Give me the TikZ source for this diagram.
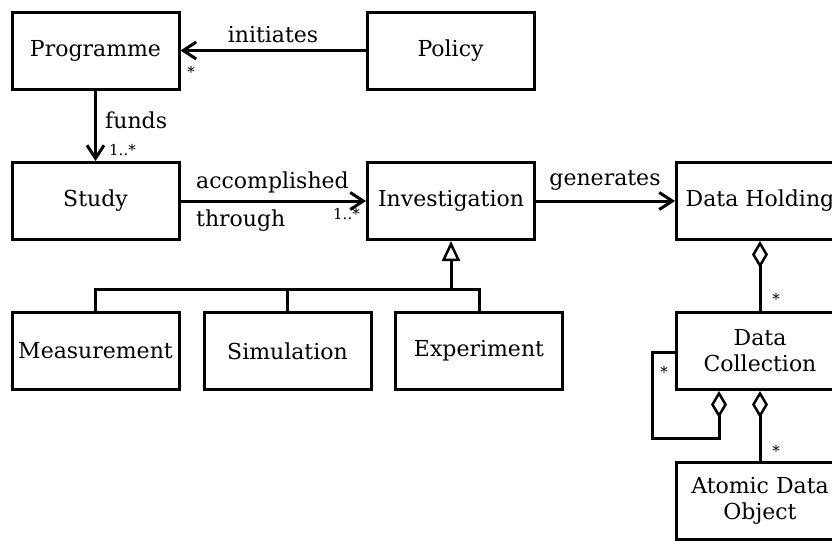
\documentclass[tikz,border=0pt]{standalone}
\usepackage{fontspec}
\setmainfont{DejaVu Serif}
\usetikzlibrary{arrows.meta}
\begin{document}
\begin{tikzpicture}[x=1pt,y=-1pt,
  box/.style={draw, line width=3pt, minimum width=167pt, minimum height=77pt,
    inner sep=0pt, align=center, font=\fontsize{22}{26}\selectfont},
  conn/.style={line width=3pt},
  assoc/.style={conn, -{Straight Barb[length=13pt,width=17pt,line width=3pt]}},
  gen/.style={conn, -{Triangle[open,length=20pt,width=18pt,line width=2.5pt]}},
  agg/.style={conn, {Diamond[open,length=27pt,width=16pt,line width=2.5pt]}-},
  lbl/.style={font=\fontsize{22}{26}\selectfont, inner sep=0pt},
  mult/.style={font=\fontsize{15}{16}\selectfont, inner sep=0pt}]
\useasboundingbox (0,0) rectangle (832,541);
\fill[white] (0,0) rectangle (832,541);

\node[box] (prog)   at (95.5,50.5)  {Programme};
\node[box] (policy) at (450.5,50.5) {Policy};
\node[box] (study)  at (95.5,201)   {Study};
\node[box] (inv)    at (451,201)    {Investigation};
\node[box] (dh)     at (760,201)    {Data Holding};
\node[box] (meas)   at (95.5,351)   {Measurement};
\node[box] (sim)    at (287.5,351)  {Simulation};
\node[box] (expt)   at (479,351)    {Experiment};
\node[box] (dc)     at (760,351)    {Data\\Collection};
\node[box] (ado)    at (760,500.5)  {Atomic Data\\Object};

% associations
\draw[assoc] (policy.west) -- (prog.east);
\draw[assoc] (prog.south) -- (study.north);
\draw[assoc] (study.east) -- (inv.west);
\draw[assoc] (inv.east) -- (dh.west);

% generalization
\coordinate (bus) at (451,289);
\draw[conn] (meas.north) -- (meas.north |- bus) -- (expt.north |- bus) -- (expt.north);
\draw[conn] (sim.north) -- (sim.north |- bus);
\draw[gen] (bus) -- (inv.south);

% aggregations
\draw[agg] (dh.south) -- (dc.north);
\coordinate (loopA) at (719,438);
\coordinate (loopB) at (652,352);
\draw[agg] (dc.south -| loopA) -- (loopA) -| (loopB) -- (dc.west |- loopB);
\draw[agg] (dc.south) -- (ado.north);

% labels
\node[lbl, anchor=base] (tinit) at (273,42) {initiates};
\node[lbl, anchor=base west] (tfund) at (105,128) {funds};
\node[lbl, anchor=base west] (tacc) at (196,188) {accomplished};
\node[lbl, anchor=base west] (tthr) at (196,226) {through};
\node[lbl, anchor=base] (tgen) at (605,185) {generates};

% multiplicities
\node[mult] (m1) at (191,72) {*};
\node[mult, anchor=base west] (m2) at (109,155) {1..*};
\node[mult, anchor=base west] (m3) at (333,219) {1..*};
\node[mult] (m4) at (776,299) {*};
\node[mult] (m5) at (664,372) {*};
\node[mult] (m6) at (776,451) {*};
\end{tikzpicture}
\end{document}
